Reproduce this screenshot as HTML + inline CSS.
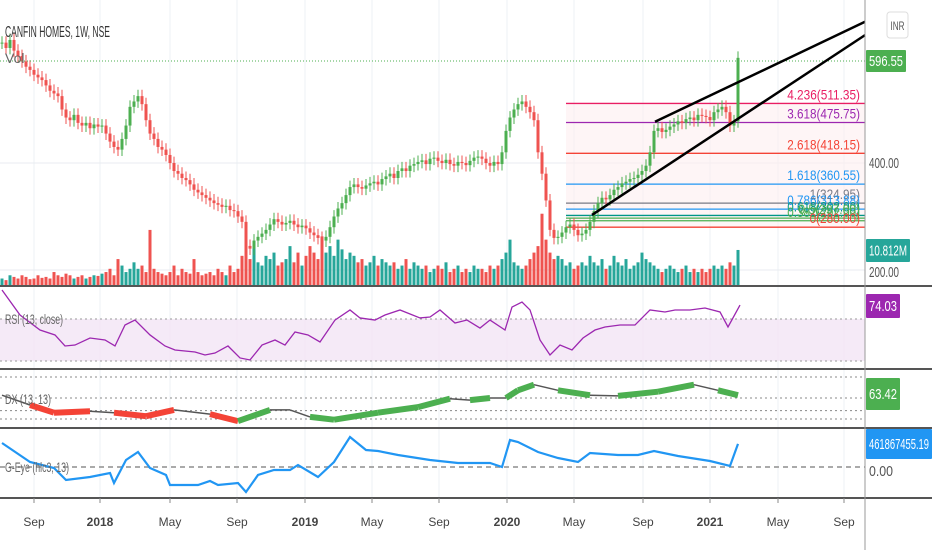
<!DOCTYPE html>
<html><head><meta charset="utf-8">
<style>
body{margin:0;background:#fff;}
svg{display:block;font-family:"Liberation Sans",sans-serif;}
</style></head>
<body>
<svg id="c" width="932" height="550">
  <g id="grid"></g>
  <rect x="0" y="319" width="865" height="42" fill="#f3e5f5" opacity="0.8"/>
  <line x1="0" y1="319" x2="865" y2="319" stroke="#999" stroke-dasharray="2,3"/>
  <line x1="0" y1="361" x2="865" y2="361" stroke="#999" stroke-dasharray="2,3"/>
  <g id="dxlines"></g>
  <line x1="0" y1="467" x2="865" y2="467" stroke="#aaa" stroke-width="2" stroke-dasharray="5,4"/>
  <g id="fib"></g>
  <g id="vol"></g>
  <g id="candles"></g>
  <line x1="0" y1="61" x2="865" y2="61" stroke="#4caf50" stroke-dasharray="1,2"/>
  <g id="trend"></g>
  <g id="rsi"></g>
  <g id="dx"></g>
  <g id="geye"></g>
  <g stroke="#555" stroke-width="2">
    <line x1="0" y1="286" x2="932" y2="286"/><line x1="0" y1="369" x2="932" y2="369"/>
    <line x1="0" y1="428" x2="932" y2="428"/><line x1="0" y1="498" x2="932" y2="498"/>
  </g>
  <line x1="865" y1="0" x2="865" y2="550" stroke="#999"/>
  <text x="5" y="37" font-size="16" fill="#333" textLength="105" lengthAdjust="spacingAndGlyphs">CANFIN HOMES, 1W, NSE</text>
  <text x="5" y="63" font-size="14" fill="#666">Vol</text>
  <text x="5" y="324" font-size="14" fill="#666" textLength="58" lengthAdjust="spacingAndGlyphs">RSI (13, close)</text>
  <text x="5" y="404" font-size="14" fill="#666" textLength="46" lengthAdjust="spacingAndGlyphs">DX (13, 13)</text>
  <text x="5" y="472" font-size="14" fill="#666" textLength="64" lengthAdjust="spacingAndGlyphs">G-Eye (hlc3, 13)</text>
  <rect x="887" y="12" width="21" height="26" rx="3" fill="#fff" stroke="#ddd"/>
  <text x="897.5" y="30" font-size="12" fill="#555" text-anchor="middle" textLength="14" lengthAdjust="spacingAndGlyphs">INR</text>
  <g id="axis"></g>
  <g id="taxis"></g>
</svg>
<script>
const closes=[625,615,630,610,600,590,580,574,565,560,555,545,535,530,525,500,485,480,490,475,
470,475,465,472,468,470,455,440,430,425,445,470,505,515,525,510,480,455,445,430,
425,415,400,385,380,372,368,360,350,345,340,335,330,325,322,318,320,312,310,300,
290,245,240,255,262,268,275,285,295,290,285,288,292,285,280,283,278,270,265,260,
255,262,280,300,315,325,340,355,360,355,352,358,362,365,360,370,375,380,372,385,
390,385,395,398,402,405,398,408,410,404,400,406,398,395,402,400,396,404,410,412,
408,400,395,402,398,420,460,485,500,510,515,505,495,480,420,380,330,275,260,262,
270,280,285,275,265,268,275,290,310,325,335,332,340,350,355,362,365,370,372,378,
385,395,420,460,465,458,462,468,472,478,475,482,485,480,490,488,486,480,495,500,
505,495,470,478,596.55];
const volumes=[2,1.5,3,2.5,2,3,2.5,1.8,2,3,2.2,2.5,2,4,3,2.5,3.5,3,2,2.5,
3,2,2.5,3,2.8,3.5,4,5,3,8,6,4,5,7,5,6,4,17,5,4,
3.5,3,4,6,3,5,4,3.5,8,4,3,3.5,4,3,5,4,3,6,4,5,
9,19,8,12,7,6,9,8,10,6,7,8,12,7,10,6,9,12,10,8,
15,10,12,9,14,11,8,10,9,7,8,6,7,9,6,8,7,6,7,5,
6,8,5,7,6,5,6,4,5,6,5,7,4,5,6,4,5,4,6,5,
5,4,6,5,6,8,10,14,7,6,5,6,8,10,12,22,14,10,8,9,
8,6,7,5,6,7,6,9,7,6,8,5,6,9,7,6,8,5,6,7,
10,8,7,6,5,4,5,6,5,4,5,6,4,5,4,5,4,5,6,5,
6,5,7,6,10.812];
const rsiWeeks=[0,4.5,9.5,13.25,15.75,18.25,22,25.75,28.25,30.75,33.25,37,40.75,43.25,48.25,50.75,53.25,56.5,59.5,62,65,68.25,70.75,73.25,76.5,79.5,83.25,87,89.5,93.25,95.75,99.5,104.5,107,109.5,113.25,116.25,119.5,122,125.75,127.5,130,132,134.5,137,139.5,142.5,145.25,148.25,150.75,154.5,158.25,162,165.75,168.25,172,175.75,179.5,181.5,184.5];
const rsiValues=[97.6,73.8,59.5,54.8,44.3,45.2,51.9,50,44.3,64.3,69,54.8,44.3,40.5,38.6,35.7,37.6,44.3,32.9,31,45.2,50,45.2,57.6,54.8,48.1,69,78.6,71,69,73.8,78.6,71,71.9,78.6,66.2,69,61.4,69,59.5,81.4,86.2,78.6,50,35.7,45.2,40.5,51.9,59.5,62.4,64.3,64.3,78.6,76.7,78.6,78.6,80.5,76.7,62.4,83.3];
const dxWeeks=[0,7,13,22,28,36,43,52,59,67,72,77,83,94,104,112,117,122,126,129,133,139,147,154,164,173,179,184];
const dxValues=[64,50,39,41,39,34,43,37,27,43,43,33,29,39,47,59,57,60,60,71,79,71,64,63,69,79,71,64];
const dxStates=["n","n","r","r","n","r","r","n","r","g","n","n","g","g","g","g","n","g","n","g","g","n","g","n","g","g","n","g"];
const gWeeks=[0,7,13,16,22,27,28,31,34,37,41,42,49,52,54,59,61,64,68,72,74,79,83,87,91,94,99,107,114,122,125,127,129,134,139,144,147,154,159,163,169,177,182,184];
const gValues=[480,100,-20,-260,-200,-120,-320,140,300,-20,-160,-360,-360,-280,-360,-320,-500,-160,-60,-60,40,-200,100,600,340,320,240,140,80,80,0,540,500,300,180,100,280,240,240,320,220,120,20,461.87];
const fibLevels=[511.35,475.75,418.15,360.55,324.95,313.85,302.0,297.0,292.0,280.0];
const fibLabels=["4.236(511.35)","3.618(475.75)","2.618(418.15)","1.618(360.55)","1(324.95)","0.786(313.88)","0.618(302.00)","0.5(297.00)","0.382(292.00)","0(280.00)"];
const fibColors=["#e91e63","#9c27b0","#f44336","#2196f3","#787b86","#2196f3","#009688","#4caf50","#4caf50","#f44336"];
const trendLines=[[163.25,477,215.75,664],[147.5,303,215.75,639]];
const monthLabels=["Sep","2018","May","Sep","2019","May","Sep","2020","May","Sep","2021","May","Sep"];
const monthWeeks=[8,24.5,42,58.75,75.75,92.5,109.25,126.25,143,160.25,177,194,210.5];

const NS="http://www.w3.org/2000/svg";
function mk(tag,attrs,parent){const e=document.createElementNS(NS,tag);for(const k in attrs)e.setAttribute(k,attrs[k]);parent.appendChild(e);return e;}
const X=i=>2+4*i, Y=p=>163-(p-400)*0.535, VY=v=>285-v*3.24, RY=r=>361-(r-30)*1.05, DY=v=>440-v*0.7, GY=v=>467-v/20;
const $=id=>document.getElementById(id);

monthWeeks.forEach(w=>{const l=mk('line',{x1:X(w),x2:X(w),y1:0,y2:498,stroke:'#eef1f6'},$('grid'));

});
[400,200].forEach(p=>{const l=mk('line',{x1:0,x2:865,y1:Y(p),y2:Y(p),stroke:'#e8ebf0'},$('grid'));

});
[90,60,42,30].forEach(v=>{const l=mk('line',{x1:0,x2:865,y1:DY(v),y2:DY(v),stroke:'#888','stroke-dasharray':'2,3'},$('dxlines'));

});
const f0=Y(fibLevels[0]),f1=Y(fibLevels[fibLevels.length-1]);
const bg=mk('rect',{x:566,y:f0,width:299,height:f1-f0,fill:'#fdeff0',opacity:0.6},$('fib'));


fibLevels.forEach((p,k)=>{const l=mk('line',{x1:566,x2:865,y1:Y(p),y2:Y(p),stroke:fibColors[k],'stroke-width':1.3},$('fib'));


const t=mk('text',{x:860,y:Y(p)-4,'font-size':14,fill:fibColors[k],'text-anchor':'end',textLength:fibLabels[k].length*5.6,lengthAdjust:'spacingAndGlyphs'},$('fib'));
t.textContent=fibLabels[k];

});
closes.forEach((c,i)=>{const o=i?closes[i-1]:c;const up=c>=o;
const v=mk('rect',{x:X(i)-1.5,y:VY(volumes[i]),width:3,height:285-VY(volumes[i]),fill:up?'#26a69a':'#ef5350'},$('vol'));


const col=up?'#4caf50':'#ef5350';const hi=Math.max(o,c)+12,lo=Math.min(o,c)-12;
const w=mk('line',{x1:X(i),x2:X(i),y1:Y(hi),y2:Y(lo),stroke:col,'stroke-width':1},$('candles'));


const b=mk('rect',{x:X(i)-1.5,y:Y(Math.max(o,c)),width:3,height:Math.max(1,Math.abs(Y(o)-Y(c))),fill:col},$('candles'));

});
trendLines.forEach(t=>{const l=mk('line',{x1:X(t[0]),y1:Y(t[1]),x2:X(t[2]),y2:Y(t[3]),stroke:'#000','stroke-width':2.5},$('trend'));

});
const rp=mk('polyline',{points:rsiWeeks.map((w,k)=>X(w)+','+Math.min(367,Math.max(288,RY(rsiValues[k])))).join(' '),fill:'none',stroke:'#9c27b0','stroke-width':1.3},$('rsi'));


for(let k=0;k<dxWeeks.length-1;k++){const s=dxStates[k+1];
const l=mk('line',{x1:X(dxWeeks[k]),y1:DY(dxValues[k]),x2:X(dxWeeks[k+1]),y2:DY(dxValues[k+1]),stroke:s==='g'?'#4caf50':s==='r'?'#f44336':'#555','stroke-width':s==='n'?1.5:6,'stroke-linecap':'butt'},$('dx'));

}
const gp=mk('polyline',{points:gWeeks.map((w,k)=>X(w)+','+GY(gValues[k])).join(' '),fill:'none',stroke:'#2196f3','stroke-width':2.2},$('geye'));


function box(x,y,w,h,fill,txt,name){const r=mk('rect',{x:x,y:y,width:w,height:h,fill:fill,rx:1},$('axis'));


const t=mk('text',{x:x+3,y:y+h/2+5,'font-size':15,fill:fill==='none'?'#555':'#fff',textLength:w-6,lengthAdjust:'spacingAndGlyphs'},$('axis'));t.textContent=txt;

}
box(866,50,40,22,'#4caf50','596.55','last-price-label');
box(866,152,36,22,'none','400.00','price-tick-400');
box(866,239,44,23,'#26a69a','10.812M','volume-value-label');
box(866,262,36,20,'none','200.00','price-tick-200');
box(866,294,34,24,'#9c27b0','74.03','rsi-value-label');
box(866,378,34,32,'#4caf50','63.42','dx-value-label');
box(866,429,66,30,'#2196f3','461867455.19','geye-value-label');
box(866,462,30,18,'none','0.00','geye-zero-label');
monthLabels.forEach((m,k)=>{const tk=mk('line',{x1:X(monthWeeks[k]),x2:X(monthWeeks[k]),y1:498,y2:503,stroke:'#888'},$('taxis'));


const t=mk('text',{x:X(monthWeeks[k]),y:526,'font-size':12,fill:'#444','text-anchor':'middle','font-weight':/^\d/.test(m)?'bold':'normal'},$('taxis'));
t.textContent=m;

});
</script>
</body></html>
